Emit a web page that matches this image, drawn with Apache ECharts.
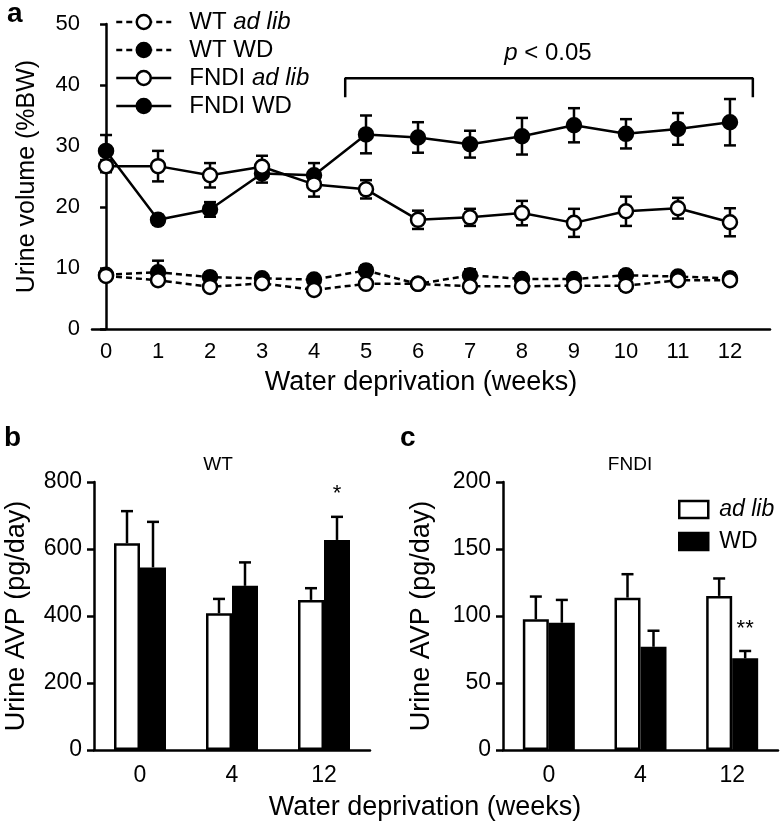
<!DOCTYPE html>
<html>
<head>
<meta charset="utf-8">
<script src="https://cdn.jsdelivr.net/npm/echarts@6/dist/echarts.min.js"></script>
<style>
  html, body { margin: 0; padding: 0; background: #fff; }
  #chart { width: 783px; height: 831px; }
</style>
</head>
<body>
<div id="chart"></div>
<script>
// panel a: urine volume (%BW) by week
const weeks = [0, 1, 2, 3, 4, 5, 6, 7, 8, 9, 10, 11, 12];
const wtAdLib = [8.7, 8.0, 6.9, 7.5, 6.4, 7.4, 7.4, 7.0, 7.0, 7.1, 7.1, 8.0, 8.0];
const wtAdLibErr = [0.6, 0.6, 0.6, 0.5, 0.5, 0.6, 0.6, 0.8, 0.7, 0.7, 0.8, 0.6, 0.6];
const wtWD = [8.9, 9.3, 8.5, 8.3, 8.1, 9.6, 7.4, 8.8, 8.2, 8.2, 8.8, 8.6, 8.3];
const wtWDErr = [0.6, 1.9, 0.8, 0.6, 0.6, 0.8, 0.8, 1.0, 0.8, 0.7, 0.8, 0.7, 0.8];
const fndiAdLib = [26.7, 26.7, 25.2, 26.6, 23.7, 22.9, 17.9, 18.3, 19.0, 17.4, 19.3, 19.8, 17.5];
const fndiAdLibErr = [1.0, 2.5, 2.0, 1.8, 2.0, 1.5, 1.5, 1.4, 2.0, 2.3, 2.4, 1.7, 2.3];
const fndiWD = [29.2, 17.9, 19.6, 25.5, 25.2, 31.9, 31.4, 30.3, 31.6, 33.4, 32.0, 32.8, 33.9];
const fndiWDErr = [2.6, 0.8, 1.2, 1.5, 2.0, 3.1, 2.5, 2.2, 3.0, 2.8, 2.4, 2.6, 3.8];

// panels b, c: urine AVP (pg/day)
const avpWeeks = ["0", "4", "12"];
const wtAvpAdLib = [617, 408, 448];
const wtAvpAdLibErr = [96, 43, 35];
const wtAvpWD = [545, 490, 627];
const wtAvpWDErr = [136, 70, 69];
const fndiAvpAdLib = [97.5, 113.7, 115];
const fndiAvpAdLibErr = [17, 17.5, 13];
const fndiAvpWD = [95, 77, 68.4];
const fndiAvpWDErr = [17, 12, 5.5];

// significance marks
const bracketX = [4.6, 12.44];
const bracketY = [38, 41.1];
const pLabel = [[8.5, 45.2, "{i|p} < 0.05"]];
const starB = [[2, 764, "*"]];
const starC = [[2, 90, "**"]];

const FONT = "'Liberation Sans', Arial, sans-serif";
const BLACK = "#000";
const LW = 2.5;

const chart = echarts.init(document.getElementById("chart"), null, { renderer: "canvas" });

const pairs = (ys) => weeks.map((w, i) => [w, ys[i]]);
const errRows = (xs, ys, es) => xs.map((x, i) => [x, ys[i], es[i]]);

function errorBarBoth(params, api) {
  const x = api.value(0);
  const y = api.value(1);
  const e = api.value(2);
  const hi = api.coord([x, y + e]);
  const lo = api.coord([x, y - e]);
  const cap = 6;
  const st = { stroke: BLACK, lineWidth: LW };
  return {
    type: "group",
    children: [
      { type: "line", shape: { x1: hi[0], y1: hi[1], x2: lo[0], y2: lo[1] }, style: st },
      { type: "line", shape: { x1: hi[0] - cap, y1: hi[1], x2: hi[0] + cap, y2: hi[1] }, style: st },
      { type: "line", shape: { x1: lo[0] - cap, y1: lo[1], x2: lo[0] + cap, y2: lo[1] }, style: st },
    ],
  };
}

// bar error bars only go up; shift moves them onto the left/right bar of the pair
function errorBarUp(shift) {
  return function (params, api) {
    const base = api.coord([api.value(0), api.value(1)]);
    const top = api.coord([api.value(0), api.value(1) + api.value(2)]);
    const x = base[0] + shift;
    const cap = 6;
    const st = { stroke: BLACK, lineWidth: LW };
    return {
      type: "group",
      children: [
        { type: "line", shape: { x1: x, y1: base[1], x2: x, y2: top[1] }, style: st },
        { type: "line", shape: { x1: x - cap, y1: top[1], x2: x + cap, y2: top[1] }, style: st },
      ],
    };
  };
}

// text placed at a data point (annotations)
function textAt(shift, size) {
  return function (params, api) {
    const p = api.coord([api.value(0), api.value(1)]);
    return {
      type: "text",
      x: p[0] + shift,
      y: p[1],
      style: {
        text: api.value(2),
        fill: BLACK,
        font: size + "px " + FONT,
        align: "center",
        verticalAlign: "middle",
        rich: { i: { fontStyle: "italic", fontSize: size, fontFamily: FONT, fill: BLACK } },
      },
    };
  };
}

function textSeries(axis, rows, shift, size) {
  return {
    type: "custom",
    xAxisIndex: axis,
    yAxisIndex: axis,
    silent: true,
    z: 6,
    renderItem: textAt(shift, size),
    encode: { x: 0, y: 1 },
    dimensions: ["x", "y", { name: "t", type: "ordinal" }],
    data: rows,
  };
}

function lineSeries(name, ys, open, dashed) {
  return {
    name,
    type: "line",
    xAxisIndex: 0,
    yAxisIndex: 0,
    data: pairs(ys),
    symbol: "circle",
    symbolSize: 14,
    z: 5,
    lineStyle: { color: BLACK, width: LW, type: dashed ? [6, 4] : "solid" },
    itemStyle: { color: open ? "#fff" : BLACK, borderColor: BLACK, borderWidth: LW },
  };
}

function errSeries(ys, es) {
  return {
    type: "custom",
    xAxisIndex: 0,
    yAxisIndex: 0,
    z: 3,
    silent: true,
    renderItem: errorBarBoth,
    encode: { x: 0, y: 1 },
    data: errRows(weeks, ys, es),
  };
}

function barSeries(name, axis, ys, open) {
  return {
    name,
    type: "bar",
    xAxisIndex: axis,
    yAxisIndex: axis,
    data: ys,
    barWidth: 26,
    barGap: "0%",
    z: 2,
    itemStyle: open
      ? { color: "#fff", borderColor: BLACK, borderWidth: LW }
      : { color: BLACK, borderColor: BLACK, borderWidth: LW },
  };
}

function barErr(axis, ys, es, shift) {
  return {
    type: "custom",
    xAxisIndex: axis,
    yAxisIndex: axis,
    z: 3,
    silent: true,
    renderItem: errorBarUp(shift),
    encode: { x: 0, y: 1 },
    data: errRows([0, 1, 2], ys, es),
  };
}

const axisLineStyle = { lineStyle: { color: BLACK, width: LW } };
const tickStyle = (len) => ({ show: true, length: len, lineStyle: { color: BLACK, width: LW } });
const labelStyle = (size, margin) => ({ color: BLACK, fontSize: size, fontFamily: FONT, margin });

const italicName = (name) =>
  name.indexOf("ad lib") >= 0
    ? "{n|" + name.replace(" ad lib", "") + " }{i|ad lib}"
    : "{n|" + name + "}";

const LEG = 24;

const option = {
  backgroundColor: "#fff",
  animation: false,
  textStyle: { fontFamily: FONT },
  grid: [
    { left: 92, right: 13, top: 24, bottom: 502 },
    { left: 94, right: 413, top: 482, bottom: 81 },
    { left: 503, right: 5, top: 482, bottom: 81 },
  ],
  legend: [
    {
      data: ["WT ad lib", "WT WD", "FNDI ad lib", "FNDI WD"],
      orient: "vertical",
      left: 115,
      top: 10,
      padding: 0,
      itemWidth: 55,
      itemHeight: 17.5,
      itemGap: 4,
      selectedMode: false,
      lineStyle: { width: LW },
      itemStyle: { borderWidth: LW },
      formatter: italicName,
      textStyle: {
        color: BLACK,
        fontSize: LEG,
        fontFamily: FONT,
        padding: 0,
        rich: {
          n: { fontSize: LEG, fontFamily: FONT, color: BLACK, lineHeight: 25, padding: [0, 0, 0, 13] },
          i: { fontSize: LEG, fontFamily: FONT, color: BLACK, fontStyle: "italic", lineHeight: 25, padding: 0 },
        },
      },
    },
    {
      data: ["ad lib", "WD"],
      orient: "vertical",
      left: 678,
      top: 498,
      padding: 0,
      icon: "rect",
      itemWidth: 29,
      itemHeight: 17,
      itemGap: 9,
      selectedMode: false,
      itemStyle: { borderWidth: LW },
      formatter: (name) => (name === "ad lib" ? "{i|ad lib}" : "{n|WD}"),
      textStyle: {
        color: BLACK,
        fontSize: 23,
        fontFamily: FONT,
        padding: 0,
        rich: {
          n: { fontSize: 23, fontFamily: FONT, color: BLACK, lineHeight: 24, padding: [0, 0, 0, 6] },
          i: { fontSize: 23, fontFamily: FONT, color: BLACK, fontStyle: "italic", lineHeight: 24, padding: [0, 0, 0, 6] },
        },
      },
    },
  ],
  xAxis: [
    {
      gridIndex: 0,
      type: "value",
      min: -0.27,
      max: 12.77,
      axisLine: axisLineStyle,
      axisTick: { show: false },
      splitLine: { show: false },
      axisLabel: Object.assign(labelStyle(22, 12), { customValues: weeks }),
    },
    {
      gridIndex: 1,
      type: "category",
      data: avpWeeks,
      axisLine: axisLineStyle,
      axisTick: { show: false },
      axisLabel: labelStyle(23, 14),
    },
    {
      gridIndex: 2,
      type: "category",
      data: avpWeeks,
      axisLine: axisLineStyle,
      axisTick: { show: false },
      axisLabel: labelStyle(23, 14),
    },
  ],
  yAxis: [
    {
      gridIndex: 0,
      type: "value",
      min: 0,
      max: 50,
      interval: 10,
      axisLine: { show: true, lineStyle: { color: BLACK, width: LW } },
      axisTick: tickStyle(6),
      splitLine: { show: false },
      axisLabel: labelStyle(22, 12),
      name: "Urine volume (%BW)",
      nameLocation: "middle",
      nameGap: 52,
      nameTextStyle: { color: BLACK, fontSize: 25, fontFamily: FONT },
    },
    {
      gridIndex: 1,
      type: "value",
      min: 0,
      max: 800,
      interval: 200,
      axisLine: { show: true, lineStyle: { color: BLACK, width: LW } },
      axisTick: tickStyle(7),
      splitLine: { show: false },
      axisLabel: labelStyle(23, 12),
      name: "Urine AVP (pg/day)",
      nameLocation: "middle",
      nameGap: 64,
      nameTextStyle: { color: BLACK, fontSize: 27, fontFamily: FONT },
    },
    {
      gridIndex: 2,
      type: "value",
      min: 0,
      max: 200,
      interval: 50,
      axisLine: { show: true, lineStyle: { color: BLACK, width: LW } },
      axisTick: tickStyle(7),
      splitLine: { show: false },
      axisLabel: labelStyle(23, 12),
      name: "Urine AVP (pg/day)",
      nameLocation: "middle",
      nameGap: 68,
      nameTextStyle: { color: BLACK, fontSize: 27, fontFamily: FONT },
    },
  ],
  graphic: [
    { type: "text", x: 7, y: 0, style: { text: "a", font: "bold 28px " + FONT, fill: BLACK } },
    { type: "text", x: 4, y: 424, style: { text: "b", font: "bold 28px " + FONT, fill: BLACK } },
    { type: "text", x: 400, y: 424, style: { text: "c", font: "bold 28px " + FONT, fill: BLACK } },
    {
      type: "text", x: 421, y: 383,
      style: { text: "Water deprivation (weeks)", font: "27px " + FONT, fill: BLACK, align: "center", verticalAlign: "middle" },
    },
    {
      type: "text", x: 425, y: 808,
      style: { text: "Water deprivation (weeks)", font: "27px " + FONT, fill: BLACK, align: "center", verticalAlign: "middle" },
    },
    {
      type: "text", x: 218, y: 465,
      style: { text: "WT", font: "19px " + FONT, fill: BLACK, align: "center", verticalAlign: "middle" },
    },
    {
      type: "text", x: 630, y: 465,
      style: { text: "FNDI", font: "19px " + FONT, fill: BLACK, align: "center", verticalAlign: "middle" },
    },
  ],
  series: [
    errSeries(wtAdLib, wtAdLibErr),
    errSeries(wtWD, wtWDErr),
    errSeries(fndiAdLib, fndiAdLibErr),
    errSeries(fndiWD, fndiWDErr),
    lineSeries("WT WD", wtWD, false, true),
    lineSeries("WT ad lib", wtAdLib, true, true),
    lineSeries("FNDI WD", fndiWD, false, false),
    lineSeries("FNDI ad lib", fndiAdLib, true, false),
    {
      type: "line",
      xAxisIndex: 0,
      yAxisIndex: 0,
      silent: true,
      symbol: "none",
      lineStyle: { color: BLACK, width: LW },
      data: [
        [bracketX[0], bracketY[0]],
        [bracketX[0], bracketY[1]],
        [bracketX[1], bracketY[1]],
        [bracketX[1], bracketY[0]],
      ],
    },
    textSeries(0, pLabel, 0, 24),
    barSeries("WT ad lib AVP", 1, wtAvpAdLib, true),
    barSeries("WT WD AVP", 1, wtAvpWD, false),
    barErr(1, wtAvpAdLib, wtAvpAdLibErr, -13),
    barErr(1, wtAvpWD, wtAvpWDErr, 13),
    textSeries(1, starB, 13, 22),
    barSeries("ad lib", 2, fndiAvpAdLib, true),
    barSeries("WD", 2, fndiAvpWD, false),
    barErr(2, fndiAvpAdLib, fndiAvpAdLibErr, -13),
    barErr(2, fndiAvpWD, fndiAvpWDErr, 13),
    textSeries(2, starC, 13, 22),
  ],
};

chart.setOption(option);
</script>
</body>
</html>
